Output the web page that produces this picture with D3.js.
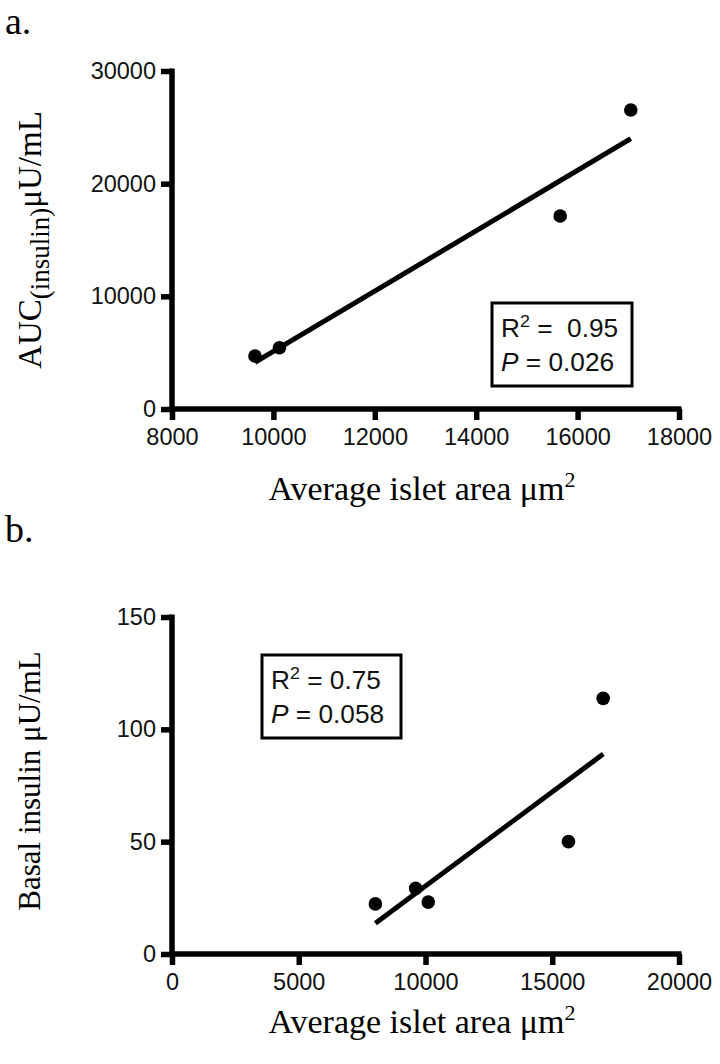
<!DOCTYPE html>
<html><head><meta charset="utf-8">
<script src="https://cdn.jsdelivr.net/npm/d3@7"></script>
<style>body{margin:0;background:#fff}</style>
</head><body>
<script>
// Panel a data
const areaA = [9636, 10119, 15657, 17049];
const aucA = [4704, 5441, 17130, 26538];
const xTicksA = [8000, 10000, 12000, 14000, 16000, 18000];
const yTicksA = [0, 10000, 20000, 30000];
const statsA = ["0.95", "0.026"];
// Panel b data
const areaB = [8023, 9612, 10108, 15640, 17009];
const basalB = [22.3, 29.2, 23.1, 50.0, 113.8];
const xTicksB = [0, 5000, 10000, 15000, 20000];
const yTicksB = [0, 50, 100, 150];
const statsB = ["0.75", "0.058"];

const svg = d3.select("body").append("svg").attr("width", 720).attr("height", 1064);
const SANS = "'Liberation Sans', Arial, sans-serif";
const SERIF = "'Liberation Serif', 'Times New Roman', serif";

function stretch(sel, s) {
  sel.each(function () {
    const t = d3.select(this);
    const x = +t.attr("x") || 0, y = +t.attr("y") || 0;
    t.attr("transform", `translate(${x},${y}) scale(${s},1) translate(${-x},${-y})`);
  });
}

function fit(xs, ys) {
  const n = xs.length, mx = d3.mean(xs), my = d3.mean(ys);
  let sxy = 0, sxx = 0;
  for (let i = 0; i < n; i++) { sxy += (xs[i]-mx)*(ys[i]-my); sxx += (xs[i]-mx)**2; }
  const m = sxy / sxx; return x => my + m*(x - mx);
}

function panel(o) {
  const x = d3.scaleLinear().domain(o.xd).range([172, 679]);
  const y = d3.scaleLinear().domain(o.yd).range([o.y0, o.y1]);
  const g = svg.append("g");
  const xa = g.append("g").attr("transform", `translate(0,${o.y0})`)
    .call(d3.axisBottom(x).tickValues(o.xt).tickSize(11).tickSizeOuter(0).tickPadding(8).tickFormat(d3.format("d")));
  const ya = g.append("g").attr("transform", `translate(172,0)`)
    .call(d3.axisLeft(y).tickValues(o.yt).tickSize(11).tickSizeOuter(0).tickPadding(5).tickFormat(d3.format("d")));
  [xa, ya].forEach(a => {
    a.select(".domain").attr("stroke", "#000").attr("stroke-width", 5.5);
    a.selectAll(".tick line").attr("stroke", "#000").attr("stroke-width", 5.5);
    a.selectAll("text").attr("fill", "#111").style("font-family", SANS).style("font-size", "23.5px");
  });
  ya.select(".domain").attr("d", `M0,${o.y1 - 2.5}V${o.y0 + 2.5}`);
  xa.select(".domain").attr("d", `M170,0H681.5`);

  // regression line (least squares from the data)
  const f = fit(o.xs, o.ys);
  const ext = d3.extent(o.xs);
  g.append("line").attr("x1", x(ext[0])).attr("y1", y(f(ext[0])))
    .attr("x2", x(ext[1])).attr("y2", y(f(ext[1])))
    .attr("stroke", "#000").attr("stroke-width", 5);
  g.selectAll("circle.pt").data(o.xs.map((v, i) => [v, o.ys[i]])).enter().append("circle")
    .attr("cx", d => x(d[0])).attr("cy", d => y(d[1])).attr("r", 6.8).attr("fill", "#000");

  // stats box
  const b = o.box;
  g.append("rect").attr("x", b[0]).attr("y", b[1]).attr("width", b[2]).attr("height", b[3])
    .attr("fill", "none").attr("stroke", "#000").attr("stroke-width", 3);
  const t1 = g.append("text").attr("x", b[0]+9).attr("y", b[1]+34).style("font-family", SANS).style("font-size", "25px").attr("fill", "#111");
  t1.append("tspan").text("R");
  t1.append("tspan").text("2").attr("dy", -10).style("font-size", "17px");
  t1.append("tspan").text(o.dblspace ? " =\u00a0 " + o.stats[0] : " = " + o.stats[0]).attr("dy", 10);
  const t2 = g.append("text").attr("x", b[0]+9).attr("y", b[1]+68).style("font-family", SANS).style("font-size", "25px").attr("fill", "#111");
  t2.append("tspan").text("P").style("font-style", "italic");
  t2.append("tspan").text(" = " + o.stats[1]);
  stretch(t1, 1.05); stretch(t2, 1.05);

  // x title
  const xt = g.append("text").attr("x", 422).attr("y", o.xtY).attr("text-anchor", "middle")
    .style("font-family", SERIF).style("font-size", "34px");
  xt.append("tspan").text("Average islet area \u03bcm");
  xt.append("tspan").text("2").attr("dy", -13).style("font-size", "22px");
  // y title
  const yt = g.append("text").attr("transform", `translate(${o.ytX},${o.ytY}) rotate(-90)`)
    .attr("text-anchor", "middle").style("font-family", SERIF).style("font-size", o.ytSize);
  o.ytitle(yt);
  // panel letter
  svg.append("text").attr("x", 5).attr("y", o.letterY).text(o.letter)
    .style("font-family", SERIF).style("font-size", "38px");
}

panel({xd: [8000, 18000], yd: [0, 30000], y0: 409, y1: 71, xt: xTicksA, yt: yTicksA,
  xs: areaA, ys: aucA, box: [492, 303, 140, 83], stats: statsA, dblspace: true,
  xtY: 500, ytX: 41, ytY: 240, ytSize: "33px", letter: "a.", letterY: 34,
  ytitle: t => { t.append("tspan").text("AUC"); t.append("tspan").text("(insulin)").attr("dy", 8).style("font-size", "27px");
    t.append("tspan").text("\u03bcU/mL").attr("dy", -8); }});
panel({xd: [0, 20000], yd: [0, 150], y0: 954, y1: 617, xt: xTicksB, yt: yTicksB,
  xs: areaB, ys: basalB, box: [262, 655, 139, 83], stats: statsB, dblspace: false,
  xtY: 1033, ytX: 40, ytY: 781, ytSize: "31px", letter: "b.", letterY: 542,
  ytitle: t => { t.text("Basal insulin \u03bcU/mL"); }});
</script>
</body></html>
